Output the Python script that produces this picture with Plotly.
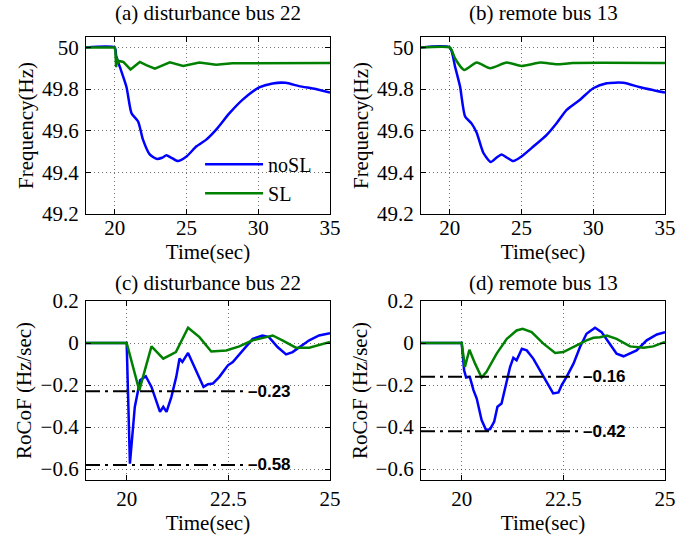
import plotly.graph_objects as go

# ---------------- data ----------------
# (a) disturbance bus 22 - frequency
a_t_nosl = [18, 20.0, 20.1, 20.36, 20.82, 21.17, 21.63, 21.97, 22.44, 22.9, 23.3, 23.6, 23.95, 24.4, 25.0, 25.7,
            26.38, 27.07, 28.0, 28.9, 30.07, 31.0, 31.9, 32.85, 34.0, 35.0]
a_f_nosl = [50, 50, 49.96, 49.906, 49.81, 49.684, 49.644, 49.557, 49.486, 49.465, 49.47, 49.482, 49.47, 49.454,
            49.476, 49.525, 49.557, 49.605, 49.684, 49.748, 49.808, 49.827, 49.83, 49.814, 49.80, 49.783]
a_t_sl = [18, 20.0, 20.05, 20.1, 20.15, 20.2, 20.3, 20.6, 21.1, 21.75, 22.2, 22.8, 23.84, 24.77, 25.9, 27.07,
          28.2, 30, 35]
a_f_sl = [50, 50, 49.98, 49.905, 49.95, 49.92, 49.935, 49.93, 49.894, 49.93, 49.915, 49.898, 49.928, 49.911,
          49.927, 49.917, 49.924, 49.925, 49.925]

# (b) remote bus 13 - frequency
b_t_nosl = [18, 20.0, 20.37, 20.72, 21.07, 21.53, 21.88, 22.34, 22.86, 23.25, 23.62, 24.0, 24.43, 25.0, 25.83,
            26.76, 27.46, 28.15, 29.08, 30.0, 30.94, 32.1, 33.26, 35]
b_f_nosl = [50, 50, 49.908, 49.812, 49.669, 49.634, 49.59, 49.494, 49.45, 49.47, 49.486, 49.47, 49.454, 49.476,
            49.524, 49.58, 49.637, 49.70, 49.749, 49.804, 49.828, 49.83, 49.809, 49.783]
b_t_sl = [18, 20.0, 20.15, 20.37, 21.0, 21.88, 22.81, 23.97, 25.0, 26.3, 27.46, 28.6, 35]
b_f_sl = [50, 50, 49.985, 49.947, 49.892, 49.927, 49.90, 49.927, 49.911, 49.927, 49.919, 49.925, 49.925]

# (c) disturbance bus 22 - RoCoF
c_t_nosl = [19, 20.0, 20.08, 20.2, 20.33, 20.47, 20.61, 20.73, 20.82, 20.9, 20.98, 21.1, 21.22, 21.3, 21.37,
            21.51, 21.63, 21.75, 21.89, 22.0, 22.12, 22.28, 22.49, 22.61, 22.85, 23.1, 23.34, 23.5, 23.71, 23.92,
            24.08, 24.24, 24.49, 24.73, 25.0]
c_r_nosl = [0, 0, -0.574, -0.304, -0.177, -0.158, -0.209, -0.28, -0.328, -0.304, -0.328, -0.256, -0.161, -0.074,
            -0.09, -0.047, -0.098, -0.146, -0.209, -0.196, -0.193, -0.161, -0.106, -0.09, -0.035, 0.02, 0.036,
            0.028, -0.019, -0.054, -0.043, -0.022, 0.013, 0.036, 0.047]
c_t_sl = [19, 20.0, 20.31, 20.61, 20.9, 21.21, 21.51, 21.79, 22.08, 22.45, 22.77, 23.1, 23.43, 23.59, 23.83,
          24.16, 24.49, 25.0]
c_r_sl = [0, 0, -0.225, -0.016, -0.074, -0.043, 0.073, 0.028, -0.04, -0.035, -0.016, 0.013, 0.028, 0.036, 0.013,
          -0.022, -0.022, 0.005]

# (d) remote bus 13 - RoCoF
d_t_nosl = [19, 20.0, 20.06, 20.11, 20.2, 20.29, 20.37, 20.43, 20.49, 20.6, 20.7, 20.8, 20.88, 20.98, 21.09,
            21.19, 21.27, 21.35, 21.48, 21.6, 21.76, 21.93, 22.09, 22.25, 22.38, 22.46, 22.58, 22.75, 22.91,
            23.07, 23.28, 23.44, 23.61, 23.81, 23.98, 24.14, 24.3, 24.55, 24.8, 25.0]
d_r_nosl = [0, 0, -0.13, -0.164, -0.161, -0.224, -0.264, -0.319, -0.367, -0.414, -0.41, -0.374, -0.303, -0.288,
            -0.2, -0.114, -0.07, -0.082, -0.027, -0.035, -0.074, -0.13, -0.185, -0.24, -0.235, -0.2, -0.161,
            -0.098, -0.019, 0.044, 0.073, 0.052, 0.005, -0.051, -0.063, -0.047, -0.035, 0.013, 0.041, 0.051]
d_t_sl = [19, 20.0, 20.08, 20.19, 20.33, 20.49, 20.61, 20.86, 21.11, 21.35, 21.5, 21.72, 22.01, 22.3, 22.5,
          22.75, 23.07, 23.24, 23.4, 23.57, 23.81, 24.14, 24.47, 24.71, 25.0]
d_r_sl = [0, 0, -0.114, -0.032, -0.098, -0.164, -0.137, -0.05, 0.02, 0.06, 0.068, 0.052, -0.003, -0.047, -0.043,
          -0.019, 0.013, 0.025, 0.028, 0.036, 0.02, -0.016, -0.022, -0.016, 0.005]

# threshold levels
c_levels = [-0.23, -0.58]
d_levels = [-0.16, -0.42]
level_labels_c = ["\u20130.23", "\u20130.58"]
level_labels_d = ["\u20130.16", "\u20130.42"]

titles = ["(a) disturbance bus 22", "(b) remote bus 13", "(c) disturbance bus 22", "(d) remote bus 13"]
freq_ticks = [49.2, 49.4, 49.6, 49.8, 50]
rocof_ticks = [-0.6, -0.4, -0.2, 0, 0.2]
top_xticks = [20, 25, 30, 35]
bot_xticks = [20, 22.5, 25]

# ---------------- figure ----------------
BLUE = "#0000FF"
GREEN = "#008000"
SERIF = "Liberation Serif, Times New Roman, serif"
FS = 21
LW = 2.5

fig = go.Figure()

def add_pair(t1, v1, t2, v2, xa, ya, legend=False, s1="linear", s2="linear"):
    fig.add_trace(go.Scatter(x=t1, y=v1, mode="lines", name="noSL",
                             line=dict(color=BLUE, width=LW, shape=s1, smoothing=0.6),
                             xaxis=xa, yaxis=ya, showlegend=legend))
    fig.add_trace(go.Scatter(x=t2, y=v2, mode="lines", name="SL",
                             line=dict(color=GREEN, width=LW, shape=s2, smoothing=0.6),
                             xaxis=xa, yaxis=ya, showlegend=legend))

add_pair(a_t_nosl, a_f_nosl, a_t_sl, a_f_sl, "x", "y", legend=True, s1="spline")
add_pair(b_t_nosl, b_f_nosl, b_t_sl, b_f_sl, "x2", "y2", s1="spline", s2="spline")
add_pair(c_t_nosl, c_r_nosl, c_t_sl, c_r_sl, "x3", "y3")
add_pair(d_t_nosl, d_r_nosl, d_t_sl, d_r_sl, "x4", "y4")

xdom = [[0, 0.4214], [0.5786, 1.0]]
ydom_top = [0.6005, 1.0]
ydom_bot = [0.0, 0.404]

common = dict(showline=True, linecolor="black", linewidth=1.3, mirror="ticks", ticks="inside", ticklen=5,
              tickcolor="black", showgrid=True, gridcolor="rgba(0,0,0,0.55)", griddash="1px,3px", gridwidth=1,
              zeroline=False, tickfont=dict(family=SERIF, size=FS, color="black"))

def xaxis(dom, rng, ticks, anchor, lab_off, tstand):
    return dict(domain=dom, range=rng, tickvals=ticks, anchor=anchor, ticklabelstandoff=lab_off,
                title=dict(text="Time(sec)", font=dict(family=SERIF, size=FS, color="black"), standoff=tstand),
                **common)

def yaxis(dom, rng, ticks, anchor, label, tstand):
    return dict(domain=dom, range=rng, tickvals=ticks, anchor=anchor, ticklabelstandoff=2,
                title=dict(text=label, font=dict(family=SERIF, size=FS, color="black"), standoff=tstand),
                **common)

fig.update_layout(
    xaxis=xaxis(xdom[0], [18, 35], top_xticks, "y", -5, 0),
    yaxis=yaxis(ydom_top, [49.2, 50.05], freq_ticks, "x", "Frequency(Hz)", 2),
    xaxis2=xaxis(xdom[1], [18, 35], top_xticks, "y2", -5, 0),
    yaxis2=yaxis(ydom_top, [49.2, 50.05], freq_ticks, "x2", "Frequency(Hz)", 2),
    xaxis3=xaxis(xdom[0], [19, 25], bot_xticks, "y3", 0, 2),
    yaxis3=yaxis(ydom_bot, [-0.652, 0.2], rocof_ticks, "x3", "RoCoF (Hz/sec)", 3),
    xaxis4=xaxis(xdom[1], [19, 25], bot_xticks, "y4", 0, 2),
    yaxis4=yaxis(ydom_bot, [-0.652, 0.2], rocof_ticks, "x4", "RoCoF (Hz/sec)", 2),
)

# threshold lines and labels
for xa, ya, levels, labels in [("x3", "y3", c_levels, level_labels_c), ("x4", "y4", d_levels, level_labels_d)]:
    for lv, lab in zip(levels, labels):
        fig.add_shape(type="line", xref=xa, yref=ya, x0=19, x1=22.9, y0=lv, y1=lv,
                      line=dict(color="black", width=2, dash="14px,5px,3px,5px"))
        fig.add_annotation(xref=xa, yref=ya, x=22.93, y=lv, text=lab, showarrow=False, xanchor="left",
                           yanchor="middle",
                           font=dict(family="Liberation Sans, Arial, sans-serif", size=17, color="black",
                                     weight="bold"))

# subplot titles
title_pos = [(xdom[0], ydom_top, 10), (xdom[1], ydom_top, 10), (xdom[0], ydom_bot, 4), (xdom[1], ydom_bot, 4)]
for txt, (xd, yd, ys) in zip(titles, title_pos):
    fig.add_annotation(xref="paper", yref="paper", x=(xd[0] + xd[1]) / 2, y=yd[1], text=txt, showarrow=False,
                       xanchor="center", yanchor="bottom", yshift=ys,
                       font=dict(family=SERIF, size=FS, color="black"))

fig.update_layout(
    width=699, height=536,
    margin=dict(l=86, r=34, t=37, b=56, autoexpand=False),
    paper_bgcolor="white", plot_bgcolor="white",
    font=dict(family=SERIF, size=FS, color="black"),
    legend=dict(x=0.197, y=0.757, xanchor="left", yanchor="top", bgcolor="rgba(0,0,0,0)",
                font=dict(family=SERIF, size=20, color="black"), itemwidth=58, tracegroupgap=0),
)

fig.write_html("out.html", config={"displayModeBar": False},
               post_script="document.body.style.margin='0';document.body.style.padding='0';")
